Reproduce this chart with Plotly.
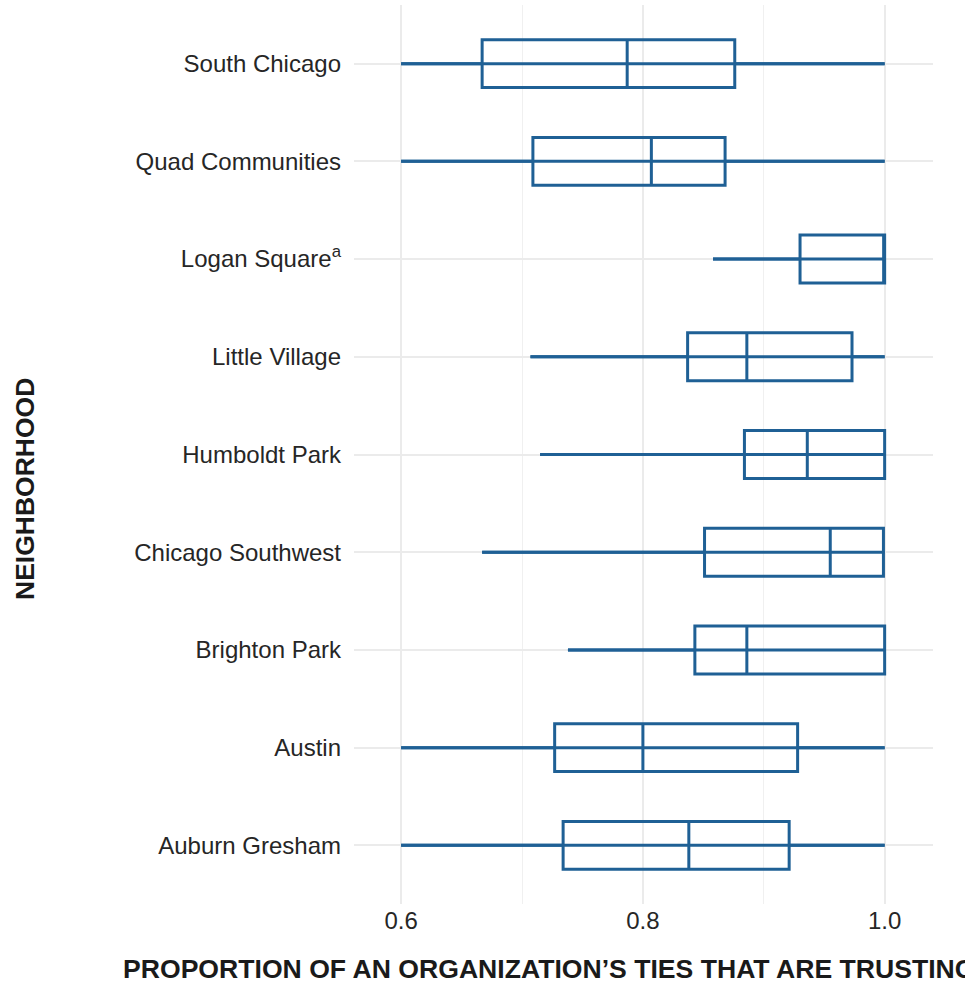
import plotly.graph_objects as go

# Neighborhoods, listed top to bottom as drawn
neighborhoods = [
    "South Chicago",
    "Quad Communities",
    "Logan Square<sup>a</sup>",
    "Little Village",
    "Humboldt Park",
    "Chicago Southwest",
    "Brighton Park",
    "Austin",
    "Auburn Gresham",
]

# Five-number summaries of the share of each organization's ties that are trusting
lower = [0.600, 0.600, 0.858, 0.707, 0.715, 0.667, 0.738, 0.600, 0.600]
q1 = [0.667, 0.709, 0.930, 0.837, 0.884, 0.851, 0.843, 0.727, 0.734]
median = [0.787, 0.807, 1.000, 0.886, 0.936, 0.955, 0.886, 0.800, 0.838]
q3 = [0.876, 0.868, 1.000, 0.973, 1.000, 0.999, 1.000, 0.928, 0.921]
upper = [1.000, 1.000, 1.000, 1.000, 1.000, 1.000, 1.000, 1.000, 1.000]

x_ticks = [0.6, 0.8, 1.0]
x_tick_text = ["0.6", "0.8", "1.0"]

BLUE = "#1f6095"
GRID = "#ebebeb"
TEXT = "#262626"
FONT = "Liberation Sans, Arial, Helvetica, sans-serif"

fig = go.Figure()

# Full-range line drawn through each box (min to max)
seg_x, seg_y = [], []
for name, lo, hi in zip(neighborhoods, lower, upper):
    seg_x += [lo, hi, None]
    seg_y += [name, name, None]
fig.add_trace(go.Scatter(
    x=seg_x, y=seg_y, mode="lines",
    line=dict(color=BLUE, width=3),
    hoverinfo="skip", showlegend=False,
))

fig.add_trace(go.Box(
    y=neighborhoods,
    q1=q1, median=median, q3=q3,
    lowerfence=lower, upperfence=upper,
    orientation="h",
    boxpoints=False,
    width=0.49,
    whiskerwidth=0,
    fillcolor="rgba(0,0,0,0)",
    line=dict(color=BLUE, width=3),
    hoverinfo="skip",
    showlegend=False,
))

fig.update_layout(
    width=965, height=984,
    margin=dict(l=354, r=32, t=5, b=80),
    paper_bgcolor="white", plot_bgcolor="white",
    font=dict(family=FONT, size=24, color=TEXT),
    showlegend=False,
    xaxis=dict(
        range=[0.561, 1.04],
        tickvals=x_ticks, ticktext=x_tick_text,
        showgrid=True, gridcolor=GRID, gridwidth=2,
        minor=dict(dtick=0.1, tick0=0.6, showgrid=True, gridcolor="#f0f0f0", gridwidth=1),
        zeroline=False, showline=False, ticks="",
        tickfont=dict(size=24, color=TEXT),
    ),
    yaxis=dict(
        type="category",
        categoryorder="array", categoryarray=neighborhoods,
        range=[8.6, -0.6],
        showgrid=True, gridcolor=GRID, gridwidth=2,
        zeroline=False, showline=False, ticks="",
        ticklabelstandoff=12,
        tickfont=dict(size=24, color=TEXT),
    ),
    annotations=[
        dict(
            text="<b>PROPORTION OF AN ORGANIZATION’S TIES THAT ARE TRUSTING</b>",
            xref="paper", yref="paper",
            x=(121 - 354) / 579, y=(904 - 969) / 899,
            xanchor="left", yanchor="middle",
            showarrow=False,
            font=dict(size=26.6, color="#1a1a1a", family=FONT),
        ),
        dict(
            text="<b>NEIGHBORHOOD</b>",
            xref="paper", yref="paper",
            x=(25 - 354) / 579, y=(904 - 489) / 899,
            xanchor="center", yanchor="middle",
            textangle=-90,
            showarrow=False,
            font=dict(size=26.5, color="#1a1a1a", family=FONT),
        ),
    ],
)

fig.write_html("out.html")
